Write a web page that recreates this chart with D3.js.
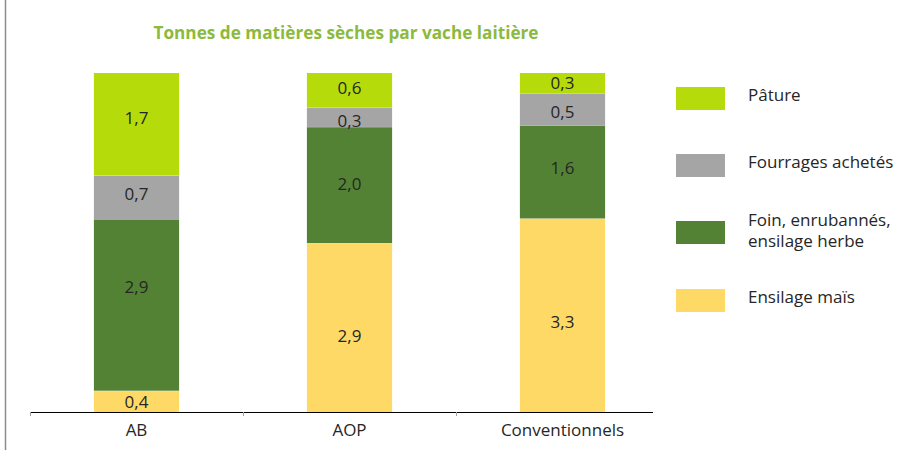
<!DOCTYPE html>
<html>
<head>
<meta charset="utf-8">
<script src="https://cdn.jsdelivr.net/npm/d3@7"></script>
<style>
  body { margin: 0; background: #fff; }
  svg { display: block; font-family: "Open Sans", "Noto Sans", sans-serif; }
</style>
</head>
<body>
<div id="grafico"></div>
<script>
// Données (tonnes de MS par vache laitière)
var groupes = ["AB", "AOP", "Conventionnels"];
var series = ["Ensilage maïs", "Foin, enrubannés, ensilage herbe", "Fourrages achetés", "Pâture"];
var ensilageMais = [0.36, 2.88, 3.26];
var foinHerbe = [2.9, 1.98, 1.57];
var fourragesAchetes = [0.74, 0.33, 0.54];
var pature = [1.73, 0.59, 0.34];
var couleurs = ["#ffd966", "#548235", "#a5a5a5", "#b5dc0a"];
// décalage vertical des étiquettes (comme placé dans l'original)
var decalages = [[1, 8, 7], [-18, -1, -4], [-3, 4, 3], [-6, -2, 0]];

var width = 897, height = 450;
var taille = 17;

var svg = d3.select("#grafico")
    .append("svg")
    .attr("width", width)
    .attr("height", height);

// bordure gauche du cadre
svg.append("line")
    .attr("x1", 5.5).attr("x2", 5.5)
    .attr("y1", 0).attr("y2", height)
    .attr("stroke", "#8c8c8c")
    .attr("stroke-width", 1.5);

// titre
svg.append("text")
    .attr("x", 346)
    .attr("y", 39)
    .attr("text-anchor", "middle")
    .attr("font-size", 17.2)
    .attr("font-weight", "bold")
    .attr("fill", "#8cba3c")
    .text("Tonnes de matières sèches par vache laitière");

// construire le tableau pour le stack
var table = groupes.map(function(g, i) {
    var row = { groupe: g, idx: i };
    row[series[0]] = ensilageMais[i];
    row[series[1]] = foinHerbe[i];
    row[series[2]] = fourragesAchetes[i];
    row[series[3]] = pature[i];
    return row;
});

var stack = d3.stack()
    .keys(series)
    .offset(d3.stackOffsetExpand);
var empil = stack(table);

var x = d3.scaleBand()
    .domain(groupes)
    .range([30, 669])
    .paddingInner(0.6)
    .paddingOuter(0.3);

var y = d3.scaleLinear()
    .domain([0, 1])
    .range([412, 73]);

var fmt = function(v) { return v.toFixed(1).replace(".", ","); };

var couches = svg.selectAll("g.serie")
    .data(empil)
    .enter()
    .append("g")
    .attr("class", "serie")
    .attr("fill", function(d, i) { return couleurs[i]; });

couches.selectAll("rect")
    .data(function(d) { return d; })
    .enter()
    .append("rect")
    .attr("x", function(d) { return x(d.data.groupe); })
    .attr("width", x.bandwidth())
    .attr("y", function(d) { return y(d[1]); })
    .attr("height", function(d) { return y(d[0]) - y(d[1]); });

// séparateurs blancs fins entre segments
couches.selectAll("line")
    .data(function(d) { return d; })
    .enter()
    .append("line")
    .filter(function(d) { return d[1] < 0.999; })
    .attr("x1", function(d) { return x(d.data.groupe); })
    .attr("x2", function(d) { return x(d.data.groupe) + x.bandwidth(); })
    .attr("y1", function(d) { return y(d[1]); })
    .attr("y2", function(d) { return y(d[1]); })
    .attr("stroke", "#ffffff")
    .attr("stroke-opacity", 0.5)
    .attr("stroke-width", 1);

// étiquettes de valeurs
couches.each(function(s, si) {
    var cle = s.key;
    d3.select(this).selectAll("text")
        .data(s)
        .enter()
        .append("text")
        .attr("x", function(d) { return x(d.data.groupe) + x.bandwidth() / 2; })
        .attr("y", function(d) { return (y(d[0]) + y(d[1])) / 2 + decalages[si][d.data.idx]; })
        .attr("dy", "0.36em")
        .attr("text-anchor", "middle")
        .attr("font-size", taille)
        .attr("fill", "#262626")
        .text(function(d) { return fmt(d.data[cle]); });
});

// axe des catégories
var axe = svg.append("g");
axe.append("line")
    .attr("x1", 30).attr("x2", 653)
    .attr("y1", 412.5).attr("y2", 412.5)
    .attr("stroke", "#000")
    .attr("stroke-width", 1.2);

var posTick = function(d) { return Math.round(x(d) - x.step() * x.paddingOuter()) + 0.5; };

axe.selectAll("line.tick")
    .data(groupes)
    .enter()
    .append("line")
    .attr("class", "tick")
    .attr("x1", posTick)
    .attr("x2", posTick)
    .attr("y1", 412)
    .attr("y2", 416)
    .attr("stroke", "#a0a0a0")
    .attr("stroke-width", 1);

axe.selectAll("text")
    .data(groupes)
    .enter()
    .append("text")
    .attr("x", function(d) { return x(d) + x.bandwidth() / 2; })
    .attr("y", 436)
    .attr("text-anchor", "middle")
    .attr("font-size", taille)
    .attr("fill", "#262626")
    .text(function(d) { return d; });

// légende (ordre inverse : Pâture en haut)
var legende = [
    { nom: ["Pâture"], couleur: couleurs[3], y: 87 },
    { nom: ["Fourrages achetés"], couleur: couleurs[2], y: 154 },
    { nom: ["Foin, enrubannés,", "ensilage herbe"], couleur: couleurs[1], y: 221 },
    { nom: ["Ensilage maïs"], couleur: couleurs[0], y: 289 }
];

var leg = svg.selectAll("g.leg")
    .data(legende)
    .enter()
    .append("g")
    .attr("class", "leg");

leg.append("rect")
    .attr("x", 676)
    .attr("y", function(d) { return d.y; })
    .attr("width", 49)
    .attr("height", 23)
    .attr("fill", function(d) { return d.couleur; });

leg.each(function(d) {
    var t = d3.select(this).append("text")
        .attr("font-size", taille)
        .attr("fill", "#262626");
    var y0 = d.nom.length > 1 ? d.y - 1.5 : d.y + 8;
    d.nom.forEach(function(ligne, k) {
        t.append("tspan")
            .attr("x", 748)
            .attr("y", y0 + k * 21.7)
            .attr("dy", "0.36em")
            .text(ligne);
    });
});
</script>
</body>
</html>
